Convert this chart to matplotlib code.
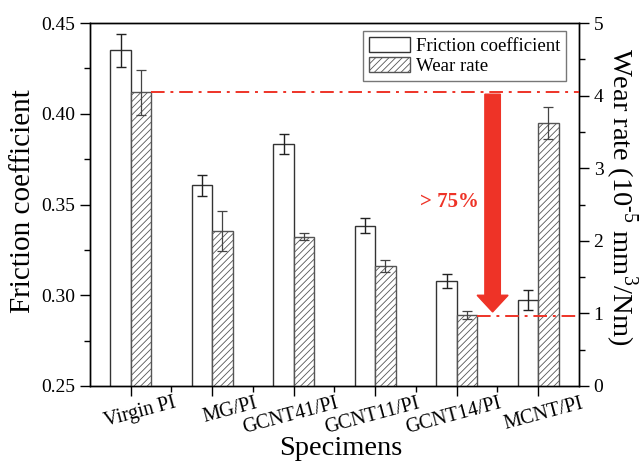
import numpy as np
import matplotlib
matplotlib.use("Agg")
import matplotlib.pyplot as plt
import matplotlib.transforms as mtransforms
from matplotlib.ticker import MultipleLocator, FixedLocator, NullFormatter

plt.rcParams.update({
    'font.family': 'Liberation Serif',
    'mathtext.fontset': 'custom',
    'mathtext.rm': 'Liberation Serif',
    'hatch.linewidth': 0.6,
    'hatch.color': '#555555',
})

specimens = ['Virgin PI', 'MG/PI', 'GCNT41/PI', 'GCNT11/PI', 'GCNT14/PI', 'MCNT/PI']
friction = [0.435, 0.3606, 0.3835, 0.3383, 0.3078, 0.2974]
friction_err = [0.009, 0.0057, 0.0056, 0.004, 0.004, 0.0053]
wear = [4.045, 2.135, 2.057, 1.657, 0.978, 3.618]
wear_err = [0.31, 0.27, 0.05, 0.085, 0.05, 0.22]

red = '#ee3327'

fig = plt.figure(figsize=(6.39, 4.61), dpi=100)
ax1 = fig.add_axes([0.1408, 0.1627, 0.7653, 0.7873])
ax2 = ax1.twinx()

x = np.arange(1, len(specimens) + 1)
w = 0.25

b1 = ax1.bar(x - w / 2, friction, w, bottom=0, color='white', edgecolor='#333333',
             linewidth=1.0, label='Friction coefficient', zorder=2)
ax1.errorbar(x - w / 2, friction, yerr=friction_err, fmt='none', ecolor='#222222',
             elinewidth=1.0, capsize=3.5, capthick=1.0, zorder=3)

b2 = ax2.bar(x + w / 2, wear, w, color='white', edgecolor='#555555', hatch='/////',
             linewidth=1.0, label='Wear rate', zorder=2)
ax2.errorbar(x + w / 2, wear, yerr=wear_err, fmt='none', ecolor='#444444',
             elinewidth=0.9, capsize=3.5, capthick=0.9, zorder=3)

ax1.set_xlim(0.5, 6.5)
ax1.set_ylim(0.25, 0.45)
ax2.set_ylim(0, 5)

ax1.yaxis.set_major_locator(MultipleLocator(0.05))
ax1.yaxis.set_minor_locator(MultipleLocator(0.025))
ax2.yaxis.set_major_locator(MultipleLocator(1))
ax2.yaxis.set_minor_locator(MultipleLocator(0.5))
ax1.set_xticks(x)
ax1.xaxis.set_minor_locator(FixedLocator(x[:-1] + 0.5))
ax1.xaxis.set_major_formatter(NullFormatter())
ax1.set_yticklabels(['%.2f' % v for v in ax1.get_yticks()])

# rotated category labels, right end anchored to the right of each tick
trans = mtransforms.blended_transform_factory(ax1.transData, ax1.transAxes)
shift = mtransforms.ScaledTranslation(42 / 100, -8 / 100, fig.dpi_scale_trans)
for xi, name in zip(x, specimens):
    ax1.text(xi, 0, name, transform=trans + shift, fontsize=14.5, rotation=15,
             ha='right', va='top', rotation_mode='anchor', clip_on=False)

for ax in (ax1, ax2):
    ax.tick_params(which='major', direction='out', length=7, width=1.0, labelsize=14)
    ax.tick_params(which='minor', direction='out', length=4, width=1.0)
    for s in ax.spines.values():
        s.set_linewidth(1.0)

ax1.set_ylabel('Friction coefficient', fontsize=21, va='center')
ax1.yaxis.set_label_coords((23 - 90) / 489, 0.51)
ax2.set_ylabel(r'Wear rate (10$^{\text{-5}}$ mm$^{3}$/Nm)', fontsize=20.5,
               rotation=270, va='center')
ax2.yaxis.set_label_coords((621 - 90) / 489, 0.52)
fig.text(341 / 639, 1 - 455 / 461, 'Specimens', fontsize=20.5, ha='center', va='baseline')

# reference lines and arrow
ax2.plot([1.25, 6.5], [wear[0], wear[0]], color=red, lw=1.4, dashes=(7, 3, 1.5, 3), zorder=4)
ax2.plot([5.25, 6.5], [wear[4] - 0.015, wear[4] - 0.015], color=red, lw=1.4,
         dashes=(7, 3, 1.5, 3), zorder=4)
ax2.arrow(5.44, 4.02, 0, -3.0, width=0.19, head_width=0.38, head_length=0.23,
          length_includes_head=True, color=red, zorder=5)
ax2.text(4.91, 2.54, '> 75%', color=red, fontsize=15, fontweight='bold',
         ha='center', va='center')

leg = ax2.legend([b1, b2], ['Friction coefficient', 'Wear rate'], loc='upper right',
                 bbox_to_anchor=((566 - 90) / 489, (386 - 31) / 363), borderaxespad=0,
                 fontsize=13.5, frameon=True, fancybox=False,
                 edgecolor='#555555', handlelength=2.2, handleheight=0.85,
                 borderpad=0.3, labelspacing=0.15, handletextpad=0.3)
leg.get_frame().set_linewidth(1.0)

fig.savefig('out.png', dpi=100)
